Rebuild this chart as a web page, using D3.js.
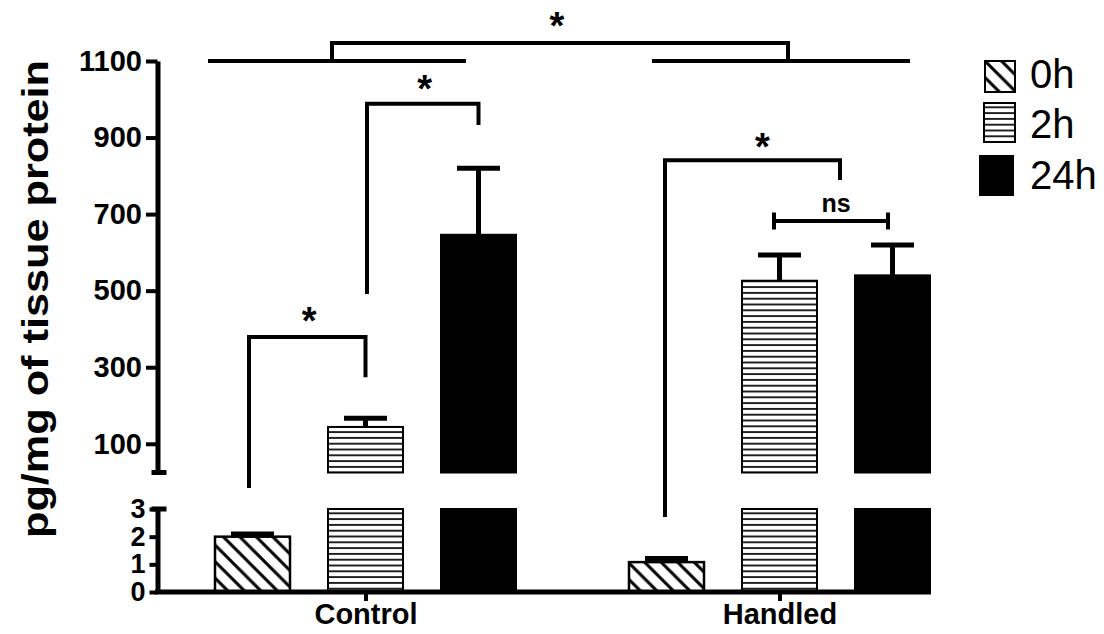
<!DOCTYPE html>
<html><head><meta charset="utf-8">
<script src="https://cdn.jsdelivr.net/npm/d3@7"></script>
<style>body{margin:0;background:#fff}</style>
</head><body><svg id="c" width="1104" height="634"></svg>
<script>
const groups = ["Control", "Handled"];
const times = ["0h", "2h", "24h"];
const controlMeans = [2.0, 144, 646];
const controlErrs = [0.08, 23, 174];
const handledMeans = [1.08, 526, 540];
const handledErrs = [0.11, 67, 79];
const upperTicks = [100, 300, 500, 700, 900, 1100];
const lowerTicks = [0, 1, 2, 3];
const yLabel = "pg/mg of tissue protein";

const FONT = "'Liberation Sans', Arial, Helvetica, sans-serif";
const svg = d3.select("#c");
svg.append("rect").attr("width", 1104).attr("height", 634).attr("fill", "#fff");

const defs = svg.append("defs");
const ds = 16.5;
const pd = defs.append("pattern").attr("id", "diag").attr("patternUnits", "userSpaceOnUse")
  .attr("width", ds).attr("height", ds);
pd.append("rect").attr("width", ds).attr("height", ds).attr("fill", "#fff");
pd.append("path").attr("d", `M0,0L${ds},${ds}M${ds-3},-3L${ds+3},3M-3,${ds-3}L3,${ds+3}`)
  .attr("stroke", "#000").attr("stroke-width", 3);
const hs = 5.8;
const ph = defs.append("pattern").attr("id", "horiz").attr("patternUnits", "userSpaceOnUse")
  .attr("width", 10).attr("height", hs);
ph.append("rect").attr("width", 10).attr("height", hs).attr("fill", "#fff");
ph.append("line").attr("x1", 0).attr("x2", 10).attr("y1", hs/2).attr("y2", hs/2)
  .attr("stroke", "#000").attr("stroke-width", 1.7);

const fills = {"0h": "url(#diag)", "2h": "url(#horiz)", "24h": "#000"};

// scales
const breakLow = 25;
const yTop = d3.scaleLinear().domain([breakLow, 1100]).range([472.5, 61]);
const yBot = d3.scaleLinear().domain([0, 3]).range([592, 509]);
const xG = d3.scalePoint().domain(groups).range([365.5, 779.5]);
const xT = d3.scalePoint().domain(times).range([-113, 113]);
const barW = 75;
const axisX = 157.5;

const data = [];
groups.forEach((g, gi) => {
  const means = gi === 0 ? controlMeans : handledMeans;
  const errs = gi === 0 ? controlErrs : handledErrs;
  times.forEach((t, ti) => data.push({g, t, m: means[ti], e: errs[ti], cx: xG(g) + xT(t)}));
});

// bars
const bars = svg.append("g");
data.forEach(d => {
  const lowTop = Math.min(d.m, 3);
  bars.append("rect").attr("x", d.cx - barW/2).attr("width", barW)
    .attr("y", yBot(lowTop)).attr("height", yBot(0) - yBot(lowTop))
    .attr("fill", fills[d.t]).attr("stroke", "#000").attr("stroke-width", d.t === "0h" ? 2.5 : 2);
  if (d.m > breakLow) {
    bars.append("rect").attr("x", d.cx - barW/2).attr("width", barW)
      .attr("y", yTop(d.m)).attr("height", yTop(breakLow) - yTop(d.m))
      .attr("fill", fills[d.t]).attr("stroke", "#000").attr("stroke-width", 2);
  }
});

// error bars
data.forEach(d => {
  const sc = d.m + d.e <= 3 ? yBot : yTop;
  bars.append("line").attr("x1", d.cx).attr("x2", d.cx).attr("y1", sc(d.m)).attr("y2", sc(d.m + d.e))
    .attr("stroke", "#000").attr("stroke-width", 5);
  bars.append("line").attr("x1", d.cx - 21.5).attr("x2", d.cx + 21.5)
    .attr("y1", sc(d.m + d.e)).attr("y2", sc(d.m + d.e))
    .attr("stroke", "#000").attr("stroke-width", d.m + d.e <= 3 ? 6 : 5);
});

// axes
function styleAxis(g, fs) {
  g.attr("font-family", null).attr("font-size", null);
  g.select(".domain").attr("stroke", "#000").attr("stroke-width", 5);
  g.selectAll(".tick line").attr("stroke", "#000").attr("stroke-width", 4);
  g.selectAll(".tick text").attr("fill", "#000").style("font-family", FONT)
    .style("font-weight", "bold").style("font-size", fs + "px");
}
const aTop = svg.append("g").attr("transform", `translate(${axisX},0)`)
  .call(d3.axisLeft(yTop).tickValues(upperTicks).tickFormat(d3.format("d"))
    .tickSize(11.5).tickPadding(4).tickSizeOuter(0));
styleAxis(aTop, 29);
const aBot = svg.append("g").attr("transform", `translate(${axisX},0)`)
  .call(d3.axisLeft(yBot).tickValues(lowerTicks).tickFormat(d3.format("d"))
    .tickSize(8).tickPadding(4).tickSizeOuter(0));
styleAxis(aBot, 27);
// break caps
svg.append("line").attr("x1", axisX - 6).attr("x2", axisX + 9).attr("y1", yTop(breakLow)).attr("y2", yTop(breakLow))
  .attr("stroke", "#000").attr("stroke-width", 5);
svg.append("line").attr("x1", axisX - 6).attr("x2", axisX + 9).attr("y1", yBot(3)).attr("y2", yBot(3))
  .attr("stroke", "#000").attr("stroke-width", 5);

const aX = svg.append("g").attr("transform", `translate(0,${yBot(0)})`)
  .call(d3.axisBottom(xG).tickSize(9).tickPadding(2).tickSizeOuter(0));
aX.attr("font-family", null).attr("font-size", null);
aX.select(".domain").remove();
aX.selectAll(".tick line").attr("stroke", "#000").attr("stroke-width", 4);
aX.selectAll(".tick text").attr("fill", "#000").style("font-family", FONT)
  .style("font-weight", "bold").style("font-size", "29px");
svg.append("line").attr("x1", axisX - 2.5).attr("x2", xG("Handled") + xT("24h") + barW/2 + 1)
  .attr("y1", yBot(0)).attr("y2", yBot(0)).attr("stroke", "#000").attr("stroke-width", 5);

// y label
svg.append("text").attr("transform", `translate(48,299) rotate(-90)`)
  .attr("text-anchor", "middle").attr("textLength", 478).attr("lengthAdjust", "spacingAndGlyphs")
  .style("font-family", FONT).style("font-weight", "bold").style("font-size", "37px").text(yLabel);

// significance annotations
const ann = svg.append("g").attr("fill", "none").attr("stroke", "#000").attr("stroke-width", 4);
const starG = svg.append("g");
function star(x, yc, txt, fs) {
  starG.append("text").attr("x", x).attr("y", yc).attr("text-anchor", "middle")
    .style("font-family", FONT).style("font-weight", "bold").style("font-size", fs + "px").text(txt);
}
const cx = (g, t) => xG(g) + xT(t);
// overall bracket
const yAll = yTop(1147), y1100 = yTop(1100);
const cL = xG("Control") - 33.5, hL = xG("Handled") + 8.5;
ann.append("path").attr("d", `M${cL},${y1100}V${yAll}H${hL}V${y1100}`);
ann.append("path").attr("d", `M${xG("Control") - 157.5},${y1100}H${xG("Control") + 100.5}`);
ann.append("path").attr("d", `M${xG("Handled") - 127.5},${y1100}H${xG("Handled") + 130.5}`);
star((cL + hL) / 2 - 3, yAll - 4, "*", 38);
// Control 0h vs 2h
{
  const x1 = cx("Control", "0h") - 3.5, x2 = cx("Control", "2h"), yb = yTop(379);
  ann.append("path").attr("d", `M${x1},${yTop(-15.5)}V${yb}H${x2}V${yTop(274)}`);
  star((x1 + x2) / 2 + 2, yb - 3, "*", 38);
}
// Control 2h vs 24h
{
  const x1 = cx("Control", "2h") + 1.5, x2 = cx("Control", "24h"), yb = yTop(988);
  ann.append("path").attr("d", `M${x1},${yTop(491)}V${yb}H${x2}V${yTop(933)}`);
  star((x1 + x2) / 2 + 2, yb - 2, "*", 38);
}
// Handled 0h vs 2h/24h
{
  const x1 = cx("Handled", "0h") - 1.5, x2 = (cx("Handled", "2h") + cx("Handled", "24h")) / 2 + 4, yb = yTop(841);
  ann.append("path").attr("d", `M${x1},${yTop(-91)}V${yb}H${x2}V${yTop(789)}`);
  star((x1 + x2) / 2 + 10, yb, "*", 38);
}
// Handled 2h vs 24h ns
{
  const x1 = cx("Handled", "2h") - 5.5, x2 = cx("Handled", "24h") - 4.5, yb = yTop(682);
  ann.append("path").attr("d", `M${x1},${yb}H${x2}`);
  ann.append("path").attr("d", `M${x1},${yb - 8.5}V${yb + 8.5}M${x2},${yb - 8.5}V${yb + 8.5}`);
  star((x1 + x2) / 2 + 5, yb - 9, "ns", 25);
}

// legend
const leg = svg.append("g");
const legRects = [[985, 61, 30, 31], [984, 103, 31, 39], [980, 156, 33, 39]];
const legTextY = [88, 138, 189];
times.forEach((t, i) => {
  const r = legRects[i];
  leg.append("rect").attr("x", r[0]).attr("y", r[1]).attr("width", r[2]).attr("height", r[3])
    .attr("fill", fills[t]).attr("stroke", "#000").attr("stroke-width", 2);
  leg.append("text").attr("x", 1030).attr("y", legTextY[i]).style("font-family", FONT)
    .style("font-size", "40px").text(t);
});
</script></body></html>
